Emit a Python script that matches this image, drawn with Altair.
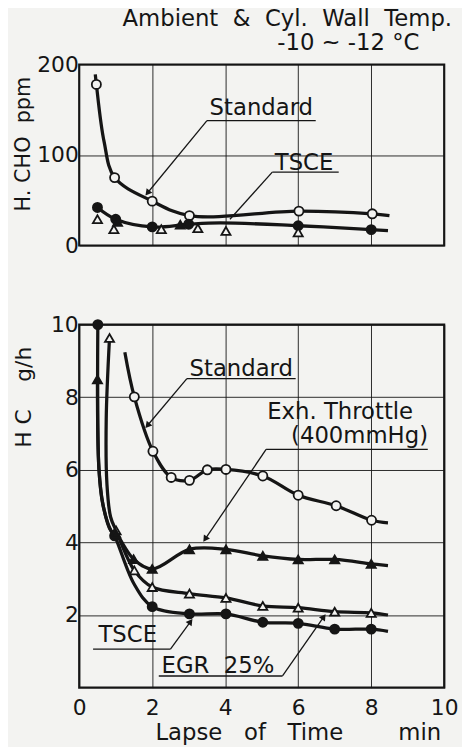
import math
import altair as alt
import pandas as pd

NB = "\u00a0"

# ---------------- data ----------------
# Top panel: H.CHO ppm
top_std_x = [0.44, 0.47, 0.68, 0.97, 2.0, 3.02, 6.02, 8.03, 8.5]
top_std_y = [189, 178, 115, 75, 49, 33, 38, 35, 33]
top_std_m = [0, 1, 0, 1, 1, 1, 1, 1, 0]

top_tsce_x = [0.5, 1.0, 2.0, 3.0, 3.86, 6.0, 8.0, 8.46]
top_tsce_y = [42, 29, 20.5, 23.5, 25, 21.8, 17.5, 16.4]
top_tsce_m = [1, 1, 1, 1, 0, 1, 1, 0]

top_exh_x = [1.05, 2.77]
top_exh_y = [26, 23]

top_egr_x = [0.5, 0.95, 2.25, 3.25, 4.02, 6.0]
top_egr_y = [29, 18, 18, 19, 16, 14.5]

# Bottom panel: HC g/h
bot_std_x = [1.25, 1.51, 2.02, 2.52, 3.02, 3.51, 4.02, 5.03, 6.0, 7.04, 8.01, 8.46]
bot_std_y = [9.24, 8.01, 6.51, 5.79, 5.71, 6.0, 6.01, 5.83, 5.30, 5.01, 4.61, 4.54]
bot_std_m = [0, 1, 1, 1, 1, 1, 1, 1, 1, 1, 1, 0]

bot_tsce_x = [0.51, 0.54, 0.65, 0.87, 0.97, 1.5, 2.0, 3.02, 4.02, 5.03, 6.0, 7.0, 8.0, 8.46]
bot_tsce_y = [10.0, 6.04, 5.04, 4.32, 4.18, 2.86, 2.23, 2.03, 2.03, 1.80, 1.77, 1.61, 1.61, 1.55]
bot_tsce_m = [1, 0, 0, 0, 1, 0, 1, 1, 1, 1, 1, 1, 1, 0]

bot_exh_x = [0.5, 0.54, 0.65, 0.87, 1.0, 1.49, 2.0, 3.02, 4.02, 5.03, 6.0, 7.0, 8.0, 8.46]
bot_exh_y = [8.49, 6.04, 5.04, 4.32, 4.25, 3.54, 3.27, 3.81, 3.81, 3.63, 3.53, 3.53, 3.41, 3.36]
bot_exh_m = [1, 0, 0, 0, 1, 1, 1, 1, 1, 1, 1, 1, 1, 0]

bot_egr_x = [0.83, 0.74, 0.76, 0.86, 1.01, 1.51, 2.0, 3.02, 4.02, 5.03, 6.0, 7.0, 8.0, 8.46]
bot_egr_y = [9.63, 7.4, 5.6, 4.7, 4.33, 3.23, 2.77, 2.59, 2.47, 2.25, 2.2, 2.09, 2.06, 2.0]
bot_egr_m = [1, 0, 0, 0, 1, 1, 1, 1, 1, 1, 1, 1, 1, 0]

# Annotations (label text, text anchor, underline, leader line to the curve)
top_labels = ["Standard", "TSCE"]
top_label_x = [4.99, 6.16]
top_label_y = [152, 91]
top_under_x = [3.5, 5.29]
top_under_x2 = [6.48, 7.11]
top_under_y = [138, 81]
top_tip_x = [1.87, 4.13]
top_tip_y = [58, 29]
top_arrow = [1, 0]

bot_labels = ["Standard", "Exh. Throttle", "(400mmHg)", "TSCE", "EGR" + NB + NB + "25%"]
bot_label_x = [4.44, 7.15, 7.68, 1.33, 3.8]
bot_label_y = [8.77, 7.59, 6.94, 1.44, 0.59]
bot_under_x = [2.95, 5.12, 0.38, 2.18]
bot_under_x2 = [5.93, 9.55, 2.5, 5.57]
bot_under_y = [8.51, 6.56, 1.06, 0.32]
bot_lead_x = [2.95, 5.12, 2.5, 5.57]
bot_tip_x = [1.87, 3.45, 3.05, 6.7]
bot_tip_y = [7.22, 4.09, 1.82, 1.95]

title_lines = ["Ambient" + NB * 2 + "&" + NB * 2 + "Cyl." + NB * 2 + "Wall" + NB * 2 + "Temp.",
               "-10 ~ -12 °C"]
y_title_top = "H." + NB + "CHO" + NB * 2 + "ppm"
y_title_bot = "H" + NB + "C" + NB * 4 + "g/h"
x_title = "Lapse" + NB * 3 + "of" + NB * 3 + "Time"
x_unit = "min"

# ---------------- styling ----------------
W = 369
H_TOP = 183
H_BOT = 367
BG = "#f3f3f1"
INK = "#151515"
FONT = "DejaVu Sans"

xscale = alt.Scale(domain=[0, 10], nice=False, zero=False)


def enc_x(axis):
    return alt.X("x:Q", scale=xscale, axis=axis)


def enc_y(ydom, axis):
    return alt.Y("y:Q", scale=alt.Scale(domain=ydom, nice=False, zero=False), axis=axis)


def panel(ydom, xaxis, yaxis, lines, open_pts, filled_pts, open_tri, filled_tri,
          labels, unders, leaders, arrows):
    X = enc_x(xaxis)
    Y = enc_y(ydom, yaxis)
    layers = []
    for xs, ys in lines:
        df = pd.DataFrame({"x": xs, "y": ys, "i": list(range(len(xs)))})
        layers.append(alt.Chart(df).mark_line(interpolate="catmull-rom", strokeWidth=3.3,
                                              color=INK).encode(x=X, y=Y, order="i:Q"))
    for pts, shape, filled in [(open_pts, "circle", False), (filled_pts, "circle", True),
                               (open_tri, "triangle-up", False), (filled_tri, "triangle-up", True)]:
        if not pts[0]:
            continue
        df = pd.DataFrame({"x": pts[0], "y": pts[1]})
        layers.append(alt.Chart(df).mark_point(
            shape=shape, filled=True, size=85,
            fill=(INK if filled else BG), stroke=INK, strokeWidth=1.8, opacity=1
        ).encode(x=X, y=Y))
    df_r = pd.DataFrame({"x": unders[0] + leaders[0], "x2": unders[1] + leaders[1],
                         "y": unders[2] + leaders[2], "y2": unders[2] + leaders[3]})
    layers.append(alt.Chart(df_r).mark_rule(strokeWidth=1.3, color=INK).encode(
        x=X, y=Y, x2="x2:Q", y2="y2:Q"))
    if arrows[0]:
        df_a = pd.DataFrame({"x": arrows[0], "y": arrows[1], "a": arrows[2]})
        layers.append(alt.Chart(df_a).mark_point(shape="triangle-up", filled=True, size=55,
                                                 color=INK, opacity=1).encode(
            x=X, y=Y, angle=alt.Angle("a:Q", scale=None)))
    df_t = pd.DataFrame({"x": labels[1], "y": labels[2], "t": labels[0]})
    layers.append(alt.Chart(df_t).mark_text(font=FONT, fontSize=23, color=INK,
                                            align="center", baseline="middle").encode(
        x=X, y=Y, text="t:N"))
    return layers


def angle_of(sx, sy, tx, ty, ky):
    dx = (tx - sx) * W / 10.0
    dy = -(ty - sy) * ky
    return math.degrees(math.atan2(dx, -dy)) % 360


# ---- top panel
ky_top = H_TOP / 200.0
top_arr_x = [top_tip_x[i] for i in range(2) if top_arrow[i]]
top_arr_y = [top_tip_y[i] for i in range(2) if top_arrow[i]]
top_arr_a = [angle_of(top_under_x[i], top_under_y[i], top_tip_x[i], top_tip_y[i], ky_top)
             for i in range(2) if top_arrow[i]]

x_axis_top = alt.Axis(values=[2, 4, 6, 8], grid=True, labels=False, ticks=False, domain=False,
                      title=None, gridColor=INK, gridWidth=1, gridOpacity=0.9)
y_axis_top = alt.Axis(values=[0, 100, 200], grid=True, ticks=False, domain=False,
                      labelFont=FONT, labelFontSize=22, labelColor=INK, labelPadding=1,
                      gridColor=INK, gridWidth=1, gridOpacity=0.9,
                      title=y_title_top, titleFont=FONT, titleFontSize=21,
                      titleFontWeight="normal", titleColor=INK, titleAngle=270,
                      titleX=-56, titleY=80, titleAlign="center", titleBaseline="middle")

top_layers = panel(
    [0, 200], x_axis_top, y_axis_top,
    [(top_std_x, top_std_y), (top_tsce_x, top_tsce_y)],
    ([x for x, m in zip(top_std_x, top_std_m) if m], [y for y, m in zip(top_std_y, top_std_m) if m]),
    ([x for x, m in zip(top_tsce_x, top_tsce_m) if m], [y for y, m in zip(top_tsce_y, top_tsce_m) if m]),
    (top_egr_x, top_egr_y),
    (top_exh_x, top_exh_y),
    (top_labels, top_label_x, top_label_y),
    (top_under_x, top_under_x2, top_under_y),
    (top_under_x, top_tip_x, top_under_y, top_tip_y),
    (top_arr_x, top_arr_y, top_arr_a),
)

title1 = alt.Chart(pd.DataFrame({"t": [title_lines[0]]})).mark_text(
    font=FONT, fontSize=23, color=INK, align="right", baseline="middle").encode(
    x=alt.value(377), y=alt.value(-46), text="t:N")
title2 = alt.Chart(pd.DataFrame({"t": [title_lines[1]]})).mark_text(
    font=FONT, fontSize=23, color=INK, align="right", baseline="middle").encode(
    x=alt.value(344), y=alt.value(-22), text="t:N")

top = alt.layer(*top_layers, title1, title2).properties(width=W, height=H_TOP)

# ---- bottom panel
ky_bot = H_BOT / 10.0
bot_arr_a = [angle_of(bot_lead_x[i], bot_under_y[i], bot_tip_x[i], bot_tip_y[i], ky_bot)
             for i in range(4)]

x_axis_bot = alt.Axis(values=[0, 2, 4, 6, 8, 10], grid=True, ticks=False, domain=False,
                      labelFont=FONT, labelFontSize=22, labelColor=INK, labelPadding=10,
                      gridColor=INK, gridWidth=1, gridOpacity=0.9, title=None,
                      labelFlush=False)
y_axis_bot = alt.Axis(values=[2, 4, 6, 8, 10], grid=True, ticks=False, domain=False,
                      labelFont=FONT, labelFontSize=22, labelColor=INK, labelPadding=1,
                      gridColor=INK, gridWidth=1, gridOpacity=0.9,
                      title=y_title_bot, titleFont=FONT, titleFontSize=22,
                      titleFontWeight="normal", titleColor=INK, titleAngle=270,
                      titleX=-56, titleY=73, titleAlign="center", titleBaseline="middle")

bot_layers = panel(
    [0, 10], x_axis_bot, y_axis_bot,
    [(bot_std_x, bot_std_y), (bot_tsce_x, bot_tsce_y), (bot_exh_x, bot_exh_y), (bot_egr_x, bot_egr_y)],
    ([x for x, m in zip(bot_std_x, bot_std_m) if m], [y for y, m in zip(bot_std_y, bot_std_m) if m]),
    ([x for x, m in zip(bot_tsce_x, bot_tsce_m) if m], [y for y, m in zip(bot_tsce_y, bot_tsce_m) if m]),
    ([x for x, m in zip(bot_egr_x, bot_egr_m) if m], [y for y, m in zip(bot_egr_y, bot_egr_m) if m]),
    ([x for x, m in zip(bot_exh_x, bot_exh_m) if m], [y for y, m in zip(bot_exh_y, bot_exh_m) if m]),
    (bot_labels, bot_label_x, bot_label_y),
    (bot_under_x, bot_under_x2, bot_under_y),
    (bot_lead_x, bot_tip_x, bot_under_y, bot_tip_y),
    (bot_tip_x, bot_tip_y, bot_arr_a),
)

xtitle = alt.Chart(pd.DataFrame({"t": [x_title]})).mark_text(
    font=FONT, fontSize=23, color=INK, align="center", baseline="middle").encode(
    x=alt.value(172), y=alt.value(413), text="t:N")
xunit = alt.Chart(pd.DataFrame({"t": [x_unit]})).mark_text(
    font=FONT, fontSize=23, color=INK, align="right", baseline="middle").encode(
    x=alt.value(366), y=alt.value(413), text="t:N")

bottom = alt.layer(*bot_layers, xtitle, xunit).properties(width=W, height=H_BOT)

chart = alt.vconcat(top, bottom, spacing=54).properties(
    background=BG,
    padding={"left": 3, "top": -6, "right": 2, "bottom": 0},
).configure_view(stroke=INK, strokeWidth=2.2)

chart.save("out.html", embed_options={"renderer": "svg", "actions": False})
